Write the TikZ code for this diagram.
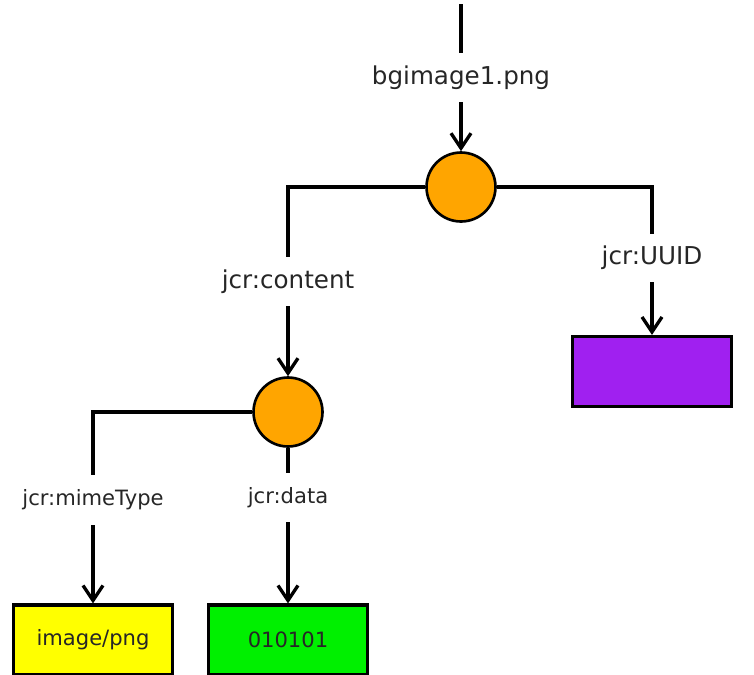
\documentclass[tikz,border=0pt]{standalone}
\usepackage{fontspec}
\setmainfont{DejaVu Sans}
\usetikzlibrary{arrows.meta}
\definecolor{nodeorange}{RGB}{255,165,0}
\definecolor{boxyellow}{RGB}{255,255,0}
\definecolor{boxgreen}{RGB}{0,240,0}
\definecolor{boxpurple}{RGB}{160,32,240}

\begin{document}
\begin{tikzpicture}[
    x=0.02cm, y=-0.02cm,
    jnode/.style={circle, draw, line width=1.5pt, fill=nodeorange, minimum size=1.38cm, inner sep=0pt},
    valbox/.style={rectangle, draw, line width=1.8pt, minimum width=3.18cm, minimum height=1.4cm, font=\fontsize{12}{14}\selectfont, text=black!85},
    prop/.style={fill=white, inner xsep=2pt, inner ysep=0.25cm, text=black!85, font=\fontsize{14}{16}\selectfont},
    subprop/.style={prop, inner ysep=0.29cm, font=\fontsize{12}{14}\selectfont},
    link/.style={line width=1.9pt},
    arrow/.style={link, -{Straight Barb[length=3mm, width=4mm]}},
    ]
    \useasboundingbox (0,0) rectangle (754,674);
    \clip (0,0) rectangle (754,674);

    % Nodes
    \coordinate (top) at (461,4);
    \node[jnode] (image) at (461,187) {};
    \node[jnode] (content) at (288,412) {};
    \node[valbox, fill=boxpurple] (uuid) at (652,371.5) {};
    \node[valbox, fill=boxyellow] (mime) at (93,640) {image/png};
    \node[valbox, fill=boxgreen] (data) at (288,640) {010101};

    % Edges
    \draw[arrow] (top) -- node[prop] {bgimage1.png} (image);
    \draw[arrow] (image.west) -| node[prop, pos=0.75] {jcr:content} (content);
    \draw[arrow] (image.east) -| node[prop, pos=0.74] {jcr:UUID} (uuid);
    \draw[arrow] (content.west) -| node[subprop, pos=0.73] {jcr:mimeType} (mime);
    \draw[arrow] (content) -- node[subprop, pos=0.32] {jcr:data} (data);
\end{tikzpicture}
\end{document}
